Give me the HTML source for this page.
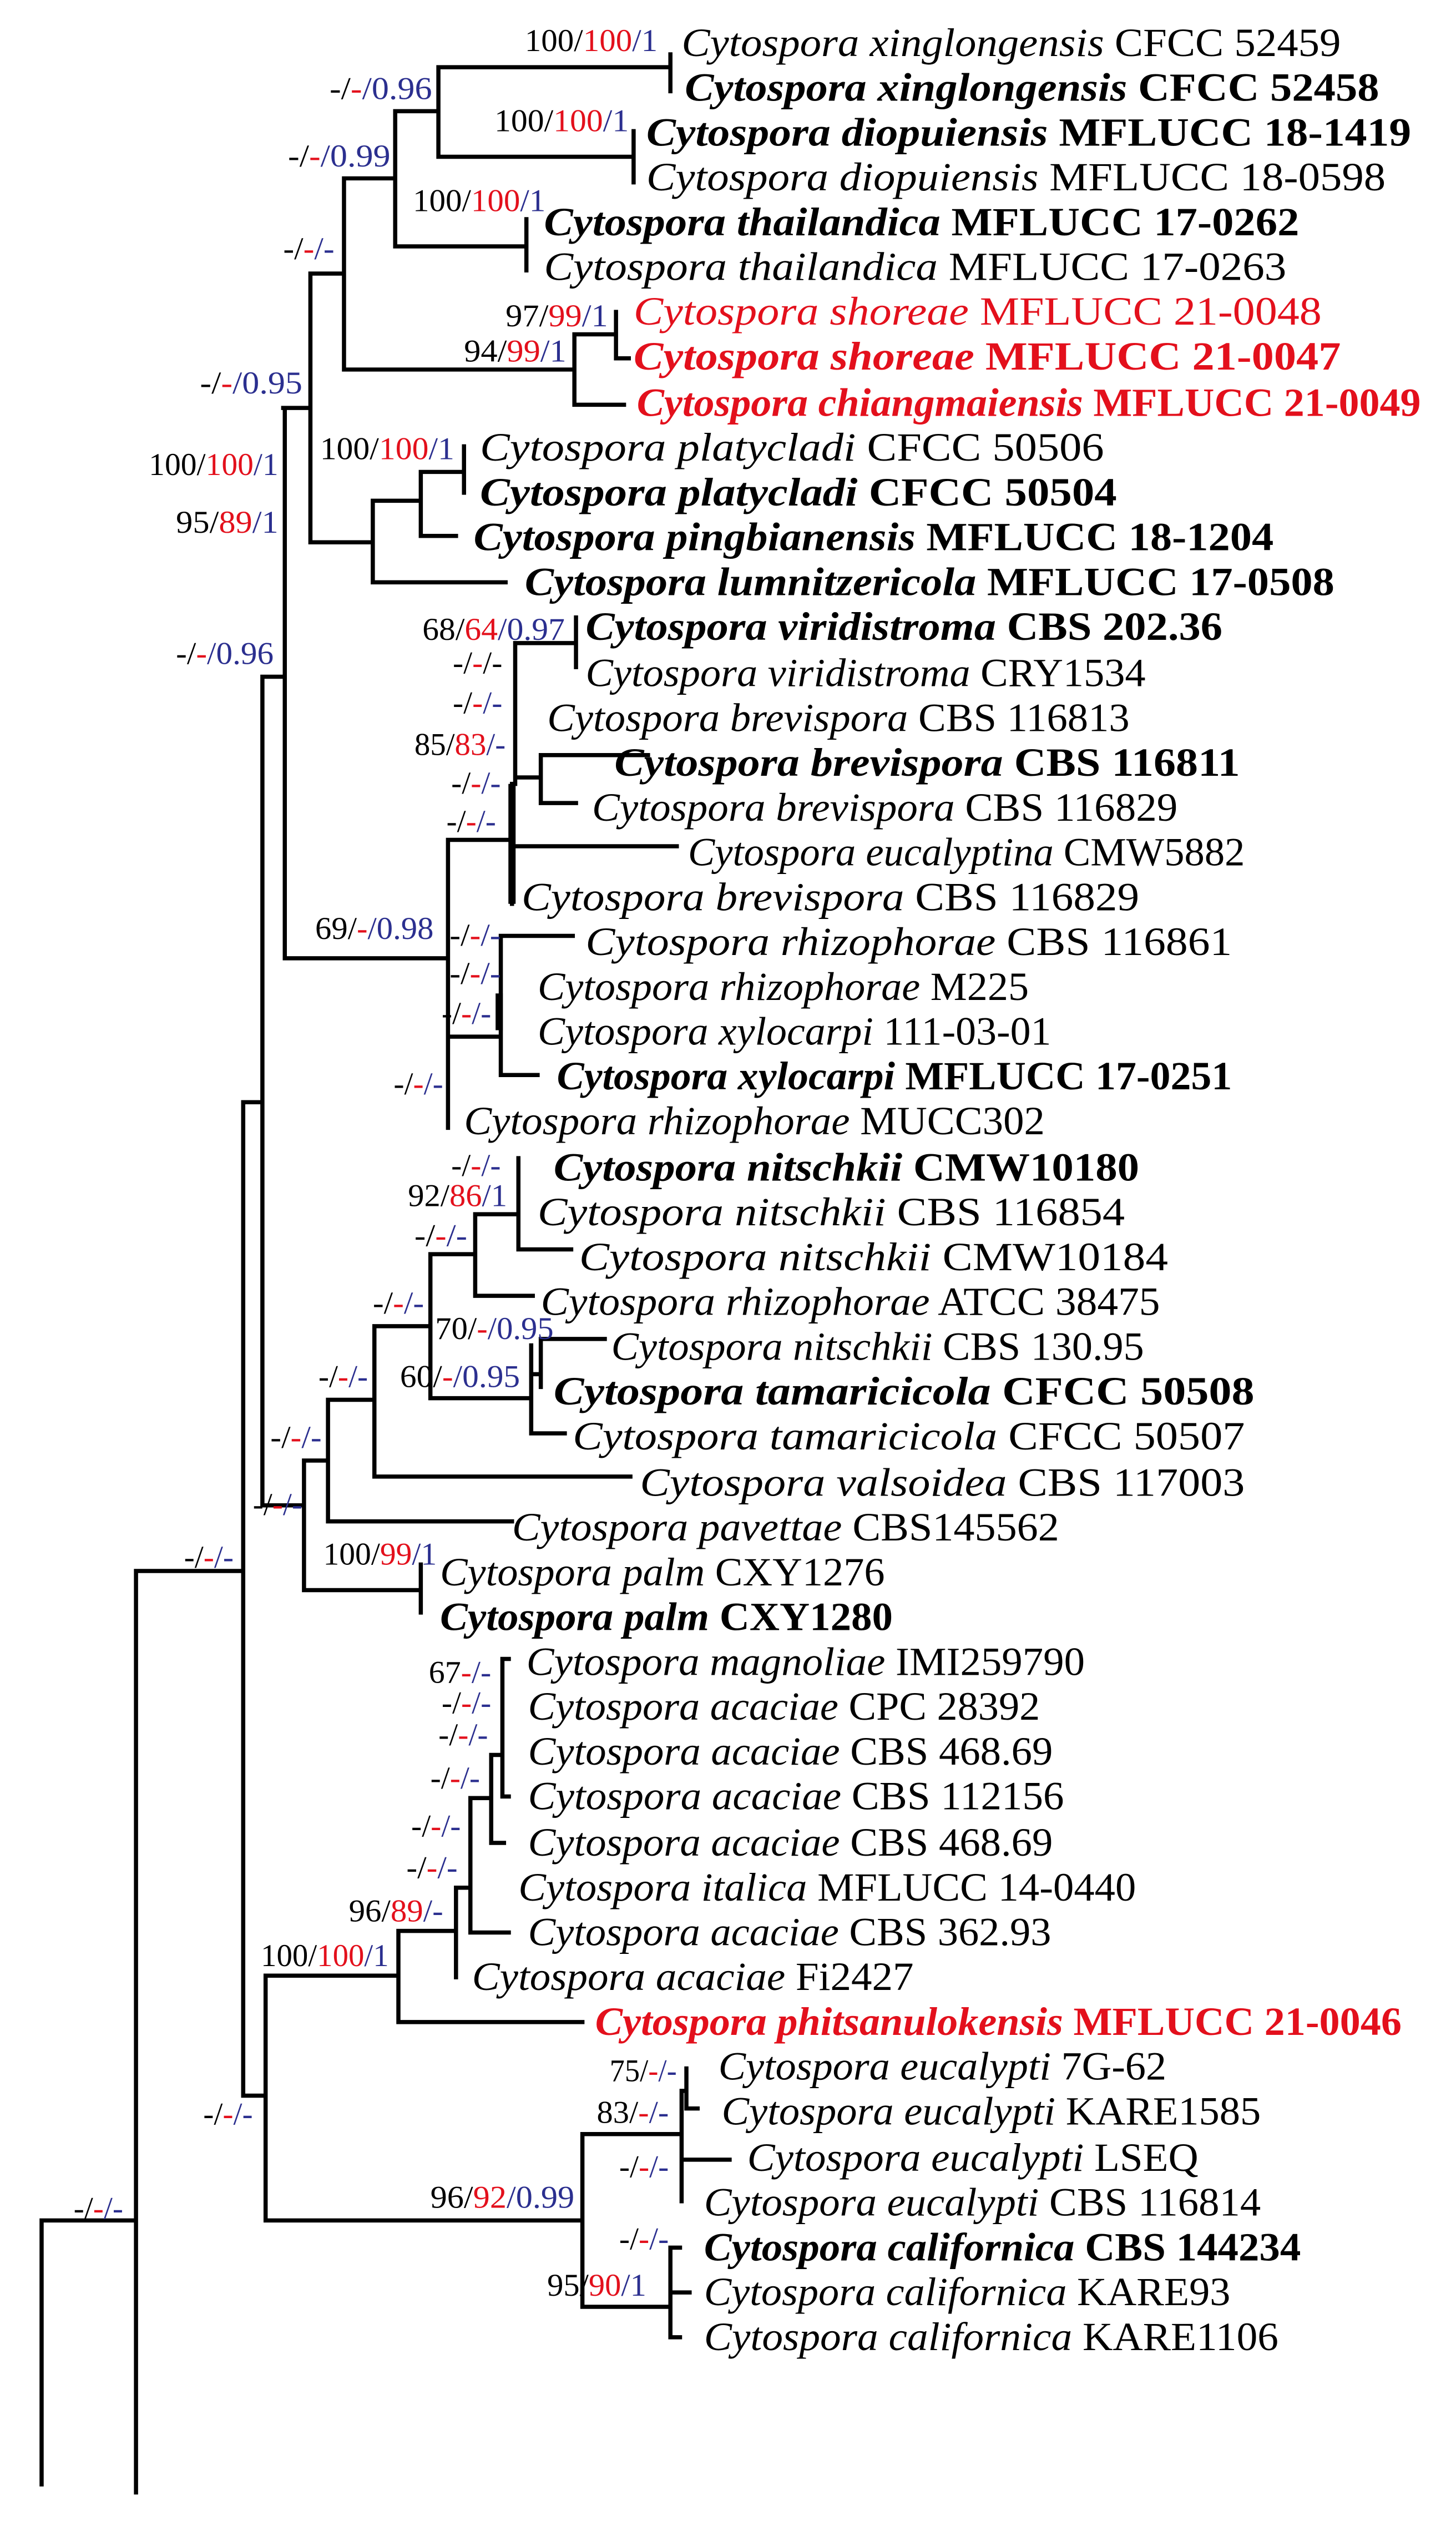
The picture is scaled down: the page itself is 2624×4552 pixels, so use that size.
<!DOCTYPE html>
<html><head><meta charset="utf-8"><style>
html,body{margin:0;padding:0;background:#fff;}
svg{display:block;}
.t{font-family:"Liberation Serif",serif;font-size:25px;}
.l{font-family:"Liberation Serif",serif;font-size:20px;}
.r{fill:#e3101c;}
.b{fill:#2b2f8f;}
</style></head><body>
<svg width="2624" height="4552" viewBox="0 0 910 1579" preserveAspectRatio="none" xmlns="http://www.w3.org/2000/svg">
<rect width="910" height="1579" fill="#fff"/>
<path fill="none" stroke="#000" stroke-width="2.6" stroke-linecap="square" d="
M26 1553 V1388 H85 M85 1558 V982 H152 M152 689 V1310 H166
M166 1235 V1388 M166 1235 H249 M166 1388 H364
M249 1207 V1264 H364 M249 1207 H285
M285 1180 V1236 M285 1180 H294 M294 1124 V1208 H318 M294 1124 H307 M307 1097 V1152 H315 M307 1097 H314 M314 1037 V1123 M314 1037 H318 M314 1123 H318
M364 1334 V1442 M364 1334 H426 M364 1442 H419 M426 1307 V1376 M426 1350 H456 M426 1307 H429 M429 1293 V1318 H436 M419 1405 V1461 M419 1405 H425 M419 1461 H425 M419 1433 H431
M152 689 H164 M164 423 V941 H190 M164 423 H178 M190 913 V994 H263 M190 913 H205 M263 978 V1008 M205 875 V951 H320 M205 875 H234 M234 829 V923 H394 M234 829 H269 M269 784 V874 H332 M269 784 H297 M297 759 V810 H333 M297 759 H324 M324 724 V781 H357 M332 841 V896 H353 M332 859 H338 M338 837 V867 M338 837 H378
M178 255 V599 H280 M280 525 V705 M280 525 H320 M320 490 V565 M320 529 H423 M322 402 V490 M322 402 H360 M360 386 V417 M322 486 H338 M338 472 V502 M338 472 H405 M338 502 H360 M280 648 H313 M313 585 V672 H336 M313 585 H358
M177 255 H194 M194 171 V339 H233 M194 171 H215 M215 111.5 V231 H359 M215 111.5 H247 M247 69.5 V154 H329 M247 69.5 H274 M274 42 V98 H396 M274 42 H419 M419 34 V57 M396 82 V114 M329 137 V169 M359 209 V253 H390 M359 209 H385 M385 195 V224 H393 M233 313 V364 H316 M233 313 H263 M263 295 V335 H285 M263 295 H290 M290 279 V308"/>
<path fill="none" stroke="#000" stroke-width="4.5" d="M320 490 V565 M312 621 V644"/>

<g class="t">
<text x="426" y="35" textLength="412" lengthAdjust="spacingAndGlyphs"><tspan font-style="italic">Cytospora xinglongensis</tspan> CFCC 52459</text>
<text x="428" y="63" textLength="434" lengthAdjust="spacingAndGlyphs" font-weight="bold"><tspan font-style="italic">Cytospora xinglongensis</tspan> CFCC 52458</text>
<text x="404" y="91" textLength="478" lengthAdjust="spacingAndGlyphs" font-weight="bold"><tspan font-style="italic">Cytospora diopuiensis</tspan> MFLUCC 18-1419</text>
<text x="404" y="119" textLength="462" lengthAdjust="spacingAndGlyphs"><tspan font-style="italic">Cytospora diopuiensis</tspan> MFLUCC 18-0598</text>
<text x="340" y="147" textLength="472" lengthAdjust="spacingAndGlyphs" font-weight="bold"><tspan font-style="italic">Cytospora thailandica</tspan> MFLUCC 17-0262</text>
<text x="340" y="175" textLength="464" lengthAdjust="spacingAndGlyphs"><tspan font-style="italic">Cytospora thailandica</tspan> MFLUCC 17-0263</text>
<text x="396" y="203" textLength="430" lengthAdjust="spacingAndGlyphs" fill="#e3101c"><tspan font-style="italic">Cytospora shoreae</tspan> MFLUCC 21-0048</text>
<text x="396" y="231" textLength="442" lengthAdjust="spacingAndGlyphs" fill="#e3101c" font-weight="bold"><tspan font-style="italic">Cytospora shoreae</tspan> MFLUCC 21-0047</text>
<text x="398" y="260" textLength="490" lengthAdjust="spacingAndGlyphs" fill="#e3101c" font-weight="bold"><tspan font-style="italic">Cytospora chiangmaiensis</tspan> MFLUCC 21-0049</text>
<text x="300" y="288" textLength="390" lengthAdjust="spacingAndGlyphs"><tspan font-style="italic">Cytospora platycladi</tspan> CFCC 50506</text>
<text x="300" y="316" textLength="398" lengthAdjust="spacingAndGlyphs" font-weight="bold"><tspan font-style="italic">Cytospora platycladi</tspan> CFCC 50504</text>
<text x="296" y="344" textLength="500" lengthAdjust="spacingAndGlyphs" font-weight="bold"><tspan font-style="italic">Cytospora pingbianensis</tspan> MFLUCC 18-1204</text>
<text x="328" y="372" textLength="506" lengthAdjust="spacingAndGlyphs" font-weight="bold"><tspan font-style="italic">Cytospora lumnitzericola</tspan> MFLUCC 17-0508</text>
<text x="366" y="400" textLength="398" lengthAdjust="spacingAndGlyphs" font-weight="bold"><tspan font-style="italic">Cytospora viridistroma</tspan> CBS 202.36</text>
<text x="366" y="429" textLength="350" lengthAdjust="spacingAndGlyphs"><tspan font-style="italic">Cytospora viridistroma</tspan> CRY1534</text>
<text x="342" y="457" textLength="364" lengthAdjust="spacingAndGlyphs"><tspan font-style="italic">Cytospora brevispora</tspan> CBS 116813</text>
<text x="384" y="485" textLength="391" lengthAdjust="spacingAndGlyphs" font-weight="bold"><tspan font-style="italic">Cytospora brevispora</tspan> CBS 116811</text>
<text x="370" y="513" textLength="366" lengthAdjust="spacingAndGlyphs"><tspan font-style="italic">Cytospora brevispora</tspan> CBS 116829</text>
<text x="430" y="541" textLength="348" lengthAdjust="spacingAndGlyphs"><tspan font-style="italic">Cytospora eucalyptina</tspan> CMW5882</text>
<text x="326" y="569" textLength="386" lengthAdjust="spacingAndGlyphs"><tspan font-style="italic">Cytospora brevispora</tspan> CBS 116829</text>
<text x="366" y="597" textLength="404" lengthAdjust="spacingAndGlyphs"><tspan font-style="italic">Cytospora rhizophorae</tspan> CBS 116861</text>
<text x="336" y="625" textLength="307" lengthAdjust="spacingAndGlyphs"><tspan font-style="italic">Cytospora rhizophorae</tspan> M225</text>
<text x="336" y="653" textLength="321" lengthAdjust="spacingAndGlyphs"><tspan font-style="italic">Cytospora xylocarpi</tspan> 111-03-01</text>
<text x="348" y="681" textLength="422" lengthAdjust="spacingAndGlyphs" font-weight="bold"><tspan font-style="italic">Cytospora xylocarpi</tspan> MFLUCC 17-0251</text>
<text x="290" y="709" textLength="363" lengthAdjust="spacingAndGlyphs"><tspan font-style="italic">Cytospora rhizophorae</tspan> MUCC302</text>
<text x="346" y="738" textLength="366" lengthAdjust="spacingAndGlyphs" font-weight="bold"><tspan font-style="italic">Cytospora nitschkii</tspan> CMW10180</text>
<text x="336" y="766" textLength="367" lengthAdjust="spacingAndGlyphs"><tspan font-style="italic">Cytospora nitschkii</tspan> CBS 116854</text>
<text x="362" y="794" textLength="368" lengthAdjust="spacingAndGlyphs"><tspan font-style="italic">Cytospora nitschkii</tspan> CMW10184</text>
<text x="338" y="822" textLength="387" lengthAdjust="spacingAndGlyphs"><tspan font-style="italic">Cytospora rhizophorae</tspan> ATCC 38475</text>
<text x="382" y="850" textLength="333" lengthAdjust="spacingAndGlyphs"><tspan font-style="italic">Cytospora nitschkii</tspan> CBS 130.95</text>
<text x="346" y="878" textLength="438" lengthAdjust="spacingAndGlyphs" font-weight="bold"><tspan font-style="italic">Cytospora tamaricicola</tspan> CFCC 50508</text>
<text x="358" y="906" textLength="420" lengthAdjust="spacingAndGlyphs"><tspan font-style="italic">Cytospora tamaricicola</tspan> CFCC 50507</text>
<text x="400" y="935" textLength="378" lengthAdjust="spacingAndGlyphs"><tspan font-style="italic">Cytospora valsoidea</tspan> CBS 117003</text>
<text x="320" y="963" textLength="342" lengthAdjust="spacingAndGlyphs"><tspan font-style="italic">Cytospora pavettae</tspan> CBS145562</text>
<text x="275" y="991" textLength="278" lengthAdjust="spacingAndGlyphs"><tspan font-style="italic">Cytospora palm</tspan> CXY1276</text>
<text x="275" y="1019" textLength="283" lengthAdjust="spacingAndGlyphs" font-weight="bold"><tspan font-style="italic">Cytospora palm</tspan> CXY1280</text>
<text x="329" y="1047" textLength="349" lengthAdjust="spacingAndGlyphs"><tspan font-style="italic">Cytospora magnoliae</tspan> IMI259790</text>
<text x="330" y="1075" textLength="320" lengthAdjust="spacingAndGlyphs"><tspan font-style="italic">Cytospora acaciae</tspan> CPC 28392</text>
<text x="330" y="1103" textLength="328" lengthAdjust="spacingAndGlyphs"><tspan font-style="italic">Cytospora acaciae</tspan> CBS 468.69</text>
<text x="330" y="1131" textLength="335" lengthAdjust="spacingAndGlyphs"><tspan font-style="italic">Cytospora acaciae</tspan> CBS 112156</text>
<text x="330" y="1160" textLength="328" lengthAdjust="spacingAndGlyphs"><tspan font-style="italic">Cytospora acaciae</tspan> CBS 468.69</text>
<text x="324" y="1188" textLength="386" lengthAdjust="spacingAndGlyphs"><tspan font-style="italic">Cytospora italica</tspan> MFLUCC 14-0440</text>
<text x="330" y="1216" textLength="327" lengthAdjust="spacingAndGlyphs"><tspan font-style="italic">Cytospora acaciae</tspan> CBS 362.93</text>
<text x="295" y="1244" textLength="276" lengthAdjust="spacingAndGlyphs"><tspan font-style="italic">Cytospora acaciae</tspan> Fi2427</text>
<text x="372" y="1272" textLength="504" lengthAdjust="spacingAndGlyphs" fill="#e3101c" font-weight="bold"><tspan font-style="italic">Cytospora phitsanulokensis</tspan> MFLUCC 21-0046</text>
<text x="449" y="1300" textLength="280" lengthAdjust="spacingAndGlyphs"><tspan font-style="italic">Cytospora eucalypti</tspan> 7G-62</text>
<text x="451" y="1328" textLength="337" lengthAdjust="spacingAndGlyphs"><tspan font-style="italic">Cytospora eucalypti</tspan> KARE1585</text>
<text x="467" y="1357" textLength="282" lengthAdjust="spacingAndGlyphs"><tspan font-style="italic">Cytospora eucalypti</tspan> LSEQ</text>
<text x="440" y="1385" textLength="348" lengthAdjust="spacingAndGlyphs"><tspan font-style="italic">Cytospora eucalypti</tspan> CBS 116814</text>
<text x="440" y="1413" textLength="373" lengthAdjust="spacingAndGlyphs" font-weight="bold"><tspan font-style="italic">Cytospora californica</tspan> CBS 144234</text>
<text x="440" y="1441" textLength="329" lengthAdjust="spacingAndGlyphs"><tspan font-style="italic">Cytospora californica</tspan> KARE93</text>
<text x="440" y="1469" textLength="359" lengthAdjust="spacingAndGlyphs"><tspan font-style="italic">Cytospora californica</tspan> KARE1106</text>
</g>

<g class="l">
<text x="328" y="32" textLength="83" lengthAdjust="spacingAndGlyphs">100/<tspan class="r">100</tspan><tspan class="b">/1</tspan></text>
<text x="206" y="62" textLength="64" lengthAdjust="spacingAndGlyphs">-/<tspan class="r">-</tspan><tspan class="b">/0.96</tspan></text>
<text x="309" y="82" textLength="84" lengthAdjust="spacingAndGlyphs">100/<tspan class="r">100</tspan><tspan class="b">/1</tspan></text>
<text x="180" y="104" textLength="64" lengthAdjust="spacingAndGlyphs">-/<tspan class="r">-</tspan><tspan class="b">/0.99</tspan></text>
<text x="258" y="132" textLength="83" lengthAdjust="spacingAndGlyphs">100/<tspan class="r">100</tspan><tspan class="b">/1</tspan></text>
<text x="177" y="162" textLength="32" lengthAdjust="spacingAndGlyphs">-/<tspan class="r">-</tspan><tspan class="b">/-</tspan></text>
<text x="316" y="204" textLength="64" lengthAdjust="spacingAndGlyphs">97/<tspan class="r">99</tspan><tspan class="b">/1</tspan></text>
<text x="290" y="226" textLength="64" lengthAdjust="spacingAndGlyphs">94/<tspan class="r">99</tspan><tspan class="b">/1</tspan></text>
<text x="125" y="246" textLength="64" lengthAdjust="spacingAndGlyphs">-/<tspan class="r">-</tspan><tspan class="b">/0.95</tspan></text>
<text x="200" y="287" textLength="84" lengthAdjust="spacingAndGlyphs">100/<tspan class="r">100</tspan><tspan class="b">/1</tspan></text>
<text x="93" y="297" textLength="81" lengthAdjust="spacingAndGlyphs">100/<tspan class="r">100</tspan><tspan class="b">/1</tspan></text>
<text x="110" y="333" textLength="64" lengthAdjust="spacingAndGlyphs">95/<tspan class="r">89</tspan><tspan class="b">/1</tspan></text>
<text x="110" y="415" textLength="61" lengthAdjust="spacingAndGlyphs">-/<tspan class="r">-</tspan><tspan class="b">/0.96</tspan></text>
<text x="197" y="587" textLength="74" lengthAdjust="spacingAndGlyphs">69/<tspan class="r">-</tspan><tspan class="b">/0.98</tspan></text>
<text x="264" y="400" textLength="89" lengthAdjust="spacingAndGlyphs">68/<tspan class="r">64</tspan><tspan class="b">/0.97</tspan></text>
<text x="283" y="421" textLength="31" lengthAdjust="spacingAndGlyphs">-/<tspan class="r">-</tspan>/-</text>
<text x="283" y="446" textLength="31" lengthAdjust="spacingAndGlyphs">-/<tspan class="r">-</tspan><tspan class="b">/-</tspan></text>
<text x="259" y="472" textLength="57" lengthAdjust="spacingAndGlyphs">85/<tspan class="r">83</tspan><tspan class="b">/-</tspan></text>
<text x="282" y="496" textLength="31" lengthAdjust="spacingAndGlyphs">-/<tspan class="r">-</tspan><tspan class="b">/-</tspan></text>
<text x="279" y="520" textLength="31" lengthAdjust="spacingAndGlyphs">-/<tspan class="r">-</tspan><tspan class="b">/-</tspan></text>
<text x="281" y="591" textLength="32" lengthAdjust="spacingAndGlyphs">-/<tspan class="r">-</tspan><tspan class="b">/-</tspan></text>
<text x="281" y="615" textLength="32" lengthAdjust="spacingAndGlyphs">-/<tspan class="r">-</tspan><tspan class="b">/-</tspan></text>
<text x="276" y="640" textLength="31" lengthAdjust="spacingAndGlyphs">-/<tspan class="r">-</tspan><tspan class="b">/-</tspan></text>
<text x="246" y="684" textLength="31" lengthAdjust="spacingAndGlyphs">-/<tspan class="r">-</tspan><tspan class="b">/-</tspan></text>
<text x="282" y="735" textLength="31" lengthAdjust="spacingAndGlyphs">-/<tspan class="r">-</tspan><tspan class="b">/-</tspan></text>
<text x="255" y="754" textLength="62" lengthAdjust="spacingAndGlyphs">92/<tspan class="r">86</tspan><tspan class="b">/1</tspan></text>
<text x="259" y="779" textLength="33" lengthAdjust="spacingAndGlyphs">-/<tspan class="r">-</tspan><tspan class="b">/-</tspan></text>
<text x="233" y="821" textLength="32" lengthAdjust="spacingAndGlyphs">-/<tspan class="r">-</tspan><tspan class="b">/-</tspan></text>
<text x="272" y="837" textLength="74" lengthAdjust="spacingAndGlyphs">70/<tspan class="r">-</tspan><tspan class="b">/0.95</tspan></text>
<text x="250" y="867" textLength="75" lengthAdjust="spacingAndGlyphs">60/<tspan class="r">-</tspan><tspan class="b">/0.95</tspan></text>
<text x="199" y="867" textLength="31" lengthAdjust="spacingAndGlyphs">-/<tspan class="r">-</tspan><tspan class="b">/-</tspan></text>
<text x="169" y="905" textLength="32" lengthAdjust="spacingAndGlyphs">-/<tspan class="r">-</tspan><tspan class="b">/-</tspan></text>
<text x="158" y="947" textLength="31" lengthAdjust="spacingAndGlyphs">-/<tspan class="r">-</tspan><tspan class="b">/-</tspan></text>
<text x="202" y="978" textLength="71" lengthAdjust="spacingAndGlyphs">100/<tspan class="r">99</tspan><tspan class="b">/1</tspan></text>
<text x="115" y="980" textLength="31" lengthAdjust="spacingAndGlyphs">-/<tspan class="r">-</tspan><tspan class="b">/-</tspan></text>
<text x="268" y="1052" textLength="39" lengthAdjust="spacingAndGlyphs">67<tspan class="r">-</tspan><tspan class="b">/-</tspan></text>
<text x="276" y="1071" textLength="31" lengthAdjust="spacingAndGlyphs">-/<tspan class="r">-</tspan><tspan class="b">/-</tspan></text>
<text x="274" y="1091" textLength="31" lengthAdjust="spacingAndGlyphs">-/<tspan class="r">-</tspan><tspan class="b">/-</tspan></text>
<text x="269" y="1118" textLength="31" lengthAdjust="spacingAndGlyphs">-/<tspan class="r">-</tspan><tspan class="b">/-</tspan></text>
<text x="257" y="1148" textLength="31" lengthAdjust="spacingAndGlyphs">-/<tspan class="r">-</tspan><tspan class="b">/-</tspan></text>
<text x="254" y="1174" textLength="32" lengthAdjust="spacingAndGlyphs">-/<tspan class="r">-</tspan><tspan class="b">/-</tspan></text>
<text x="218" y="1201" textLength="59" lengthAdjust="spacingAndGlyphs">96/<tspan class="r">89</tspan><tspan class="b">/-</tspan></text>
<text x="163" y="1229" textLength="80" lengthAdjust="spacingAndGlyphs">100/<tspan class="r">100</tspan><tspan class="b">/1</tspan></text>
<text x="127" y="1328" textLength="31" lengthAdjust="spacingAndGlyphs">-/<tspan class="r">-</tspan><tspan class="b">/-</tspan></text>
<text x="381" y="1301" textLength="42" lengthAdjust="spacingAndGlyphs">75/<tspan class="r">-</tspan><tspan class="b">/-</tspan></text>
<text x="373" y="1327" textLength="45" lengthAdjust="spacingAndGlyphs">83/<tspan class="r">-</tspan><tspan class="b">/-</tspan></text>
<text x="387" y="1361" textLength="31" lengthAdjust="spacingAndGlyphs">-/<tspan class="r">-</tspan><tspan class="b">/-</tspan></text>
<text x="269" y="1380" textLength="90" lengthAdjust="spacingAndGlyphs">96/<tspan class="r">92</tspan><tspan class="b">/0.99</tspan></text>
<text x="387" y="1406" textLength="31" lengthAdjust="spacingAndGlyphs">-/<tspan class="r">-</tspan><tspan class="b">/-</tspan></text>
<text x="342" y="1435" textLength="62" lengthAdjust="spacingAndGlyphs">95/<tspan class="r">90</tspan><tspan class="b">/1</tspan></text>
<text x="46" y="1387" textLength="31" lengthAdjust="spacingAndGlyphs">-/<tspan class="r">-</tspan><tspan class="b">/-</tspan></text>
</g>
</svg>
</body></html>
